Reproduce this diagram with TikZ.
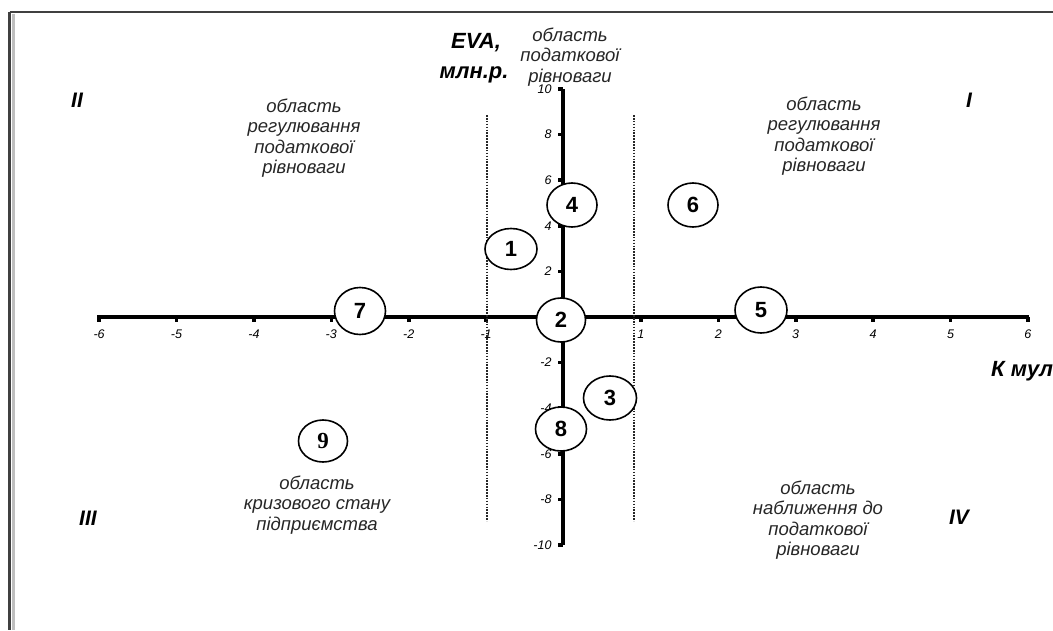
\documentclass[tikz,border=0pt]{standalone}
\usepackage{fontspec}
\setmainfont{Liberation Sans}
\newfontfamily\serifnum{Liberation Serif}
\usetikzlibrary{shapes.geometric}
\begin{document}
\begin{tikzpicture}[x=1pt,y=-1pt,
 num/.style={ellipse,draw,line width=1.6pt,fill=white,inner sep=0pt,font=\fontsize{22}{22}\selectfont\bfseries},
 region/.style={align=center,font=\fontsize{18.5}{20.5}\selectfont\itshape,text=black!85},
 quad/.style={font=\fontsize{21}{21}\selectfont\bfseries\itshape},
 axlabel/.style={font=\fontsize{22}{22}\selectfont\bfseries\itshape},
 ticklab/.style={font=\fontsize{12.5}{13}\selectfont\itshape},
 axisline/.style={line width=4.5pt},
 guide/.style={line width=1.8pt,dash pattern=on 1.6pt off 1.3pt,black!85},
 frameline/.style={line width=2.2pt,black!75}]
\useasboundingbox (0,0) rectangle (1053,630);
% frame
\draw[line width=3pt,black!25] (13.5,14) -- (13.5,630);
\draw[frameline] (9.5,12) -- (1053,12);
\draw[frameline] (9.5,12) -- (9.5,630);
% axes coordinates
\coordinate (xl) at (97,317);
\coordinate (xr) at (1029,317);
\coordinate (yt) at (563,89);
\coordinate (yb) at (563,545);
\draw[axisline] (xl) -- (xr);
\draw[axisline] (yt) -- (yb);
% x ticks
\foreach \i in {-6,...,6}{
  \fill ({563.5+77.4*\i-1.8},317) rectangle ({563.5+77.4*\i+1.8},322);
}
\foreach \i in {-6,-5,-4,-3,-2,-1,1,2,3,4,5,6}{
  \node[ticklab] (xt\i) at ({563.5+77.4*\i},334) {\i};
}
% y ticks
\foreach \j in {-10,-8,-6,-4,-2,2,4,6,8,10}{
  \fill (558,{317-22.8*\j-1.8}) rectangle (563,{317-22.8*\j+1.8});
  \node[ticklab,anchor=east] (yt\j) at (555,{317-22.8*\j}) {\j};
}
% dotted guides
\coordinate (g1t) at (487,115);
\coordinate (g1b) at (487,521);
\coordinate (g2t) at (634,115);
\coordinate (g2b) at (634,521);
\draw[guide] (g1t) -- (g1b);
\draw[guide] (g2t) -- (g2b);
% ellipses
\node[num,minimum width=52pt,minimum height=41pt] (n1) at (511,249) {1};
\node[num,minimum width=49pt,minimum height=44pt] (n2) at (561,320) {2};
\node[num,minimum width=53pt,minimum height=44pt] (n3) at (610,398) {3};
\node[num,minimum width=50pt,minimum height=44pt] (n4) at (572,205) {4};
\node[num,minimum width=52pt,minimum height=46pt] (n5) at (761,310) {5};
\node[num,minimum width=50pt,minimum height=44pt] (n6) at (693,205) {6};
\node[num,minimum width=51pt,minimum height=47pt] (n7) at (360,311) {7};
\node[num,minimum width=51pt,minimum height=44pt] (n8) at (561,429) {8};
\node[num,minimum width=49pt,minimum height=42pt,font=\fontsize{23}{23}\selectfont\serifnum\bfseries] (n9) at (323,441) {9};
% axis titles
\node[axlabel,anchor=base] (eva) at (476,48) {EVA,};
\node[axlabel,anchor=base] (mln) at (474,78) {млн.р.};
\node[axlabel,anchor=base west,inner sep=0pt] (kmul) at (991,376) {К мул};
% quadrant numerals
\node[quad] (q2) at (77,100) {II};
\node[quad] (q1) at (969,100) {I};
\node[quad] (q3) at (88,518) {III};
\node[quad] (q4) at (959,517) {IV};
% region texts
\node[region] (rtop) at (570,57) {область\\податкової\\рівноваги};
\node[region] (rtl) at (304,138) {область\\регулювання\\податкової\\рівноваги};
\node[region] (rtr) at (824,136) {область\\регулювання\\податкової\\рівноваги};
\node[region] (rbl) at (317,505) {область\\кризового стану\\підприємства};
\node[region] (rbr) at (818,520) {область\\наближення до\\податкової\\рівноваги};
\end{tikzpicture}
\end{document}
